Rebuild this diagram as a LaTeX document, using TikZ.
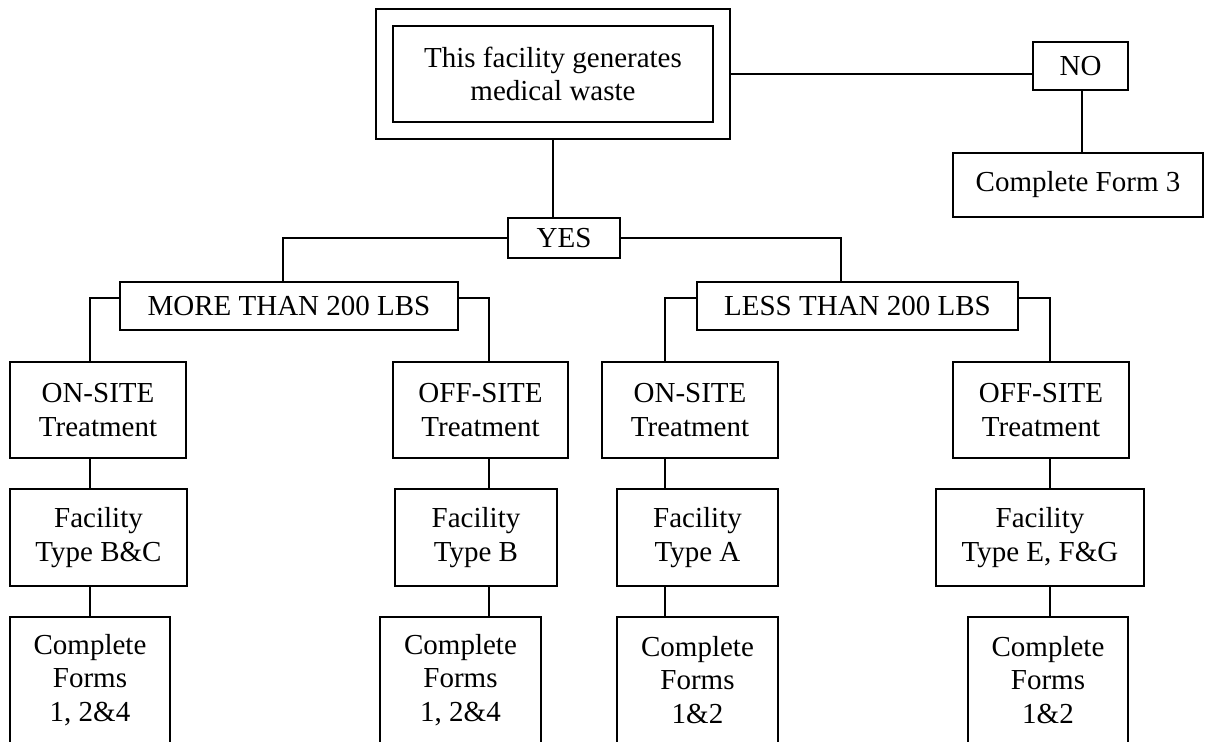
\documentclass[tikz,border=0pt]{standalone}
\usepackage{fontspec}
\setmainfont{Liberation Serif}
\usetikzlibrary{positioning,fit}
\newcommand{\boxfont}{\fontsize{14.5}{16.6}\selectfont}

\begin{document}
\begin{tikzpicture}[x=0.5pt, y=-0.5pt,
	box/.style={rectangle, draw=black, line width=1pt, inner sep=0pt, align=center, font=\boxfont},
	link/.style={draw=black, line width=0.9pt}]

	\useasboundingbox (0,0) rectangle (1205,741);

	% Nodes
	\node[box, minimum width=160pt, minimum height=48pt] (top) at (553,74) {This facility generates\\medical waste};
	\node[box, fit=(top), inner sep=8pt] (frame) {};
	\node[box, minimum width=47.5pt, minimum height=24pt] (no) at (1080.5,66) {NO};
	\node[box, minimum width=125pt, minimum height=32pt] (form3) at (1078,185) {Complete Form 3};
	\node[box, minimum width=56pt, minimum height=20pt, fill=white] (yes) at (564,238) {YES};
	\node[box, minimum width=169pt, minimum height=24pt] (more) at (289,306) {MORE THAN 200 LBS};
	\node[box, minimum width=160.5pt, minimum height=24pt] (less) at (857.5,306) {LESS THAN 200 LBS};

	\node[box, minimum width=88pt, minimum height=48pt] (on1) at (98,410) {ON-SITE\\Treatment};
	\node[box, minimum width=87.5pt, minimum height=48pt] (off1) at (480.5,410) {OFF-SITE\\Treatment};
	\node[box, minimum width=88pt, minimum height=48pt] (on2) at (690,410) {ON-SITE\\Treatment};
	\node[box, minimum width=88pt, minimum height=48pt] (off2) at (1041,410) {OFF-SITE\\Treatment};

	\node[box, minimum width=88.5pt, minimum height=48.5pt] (fac1) at (98.5,537.5) {Facility\\Type B\&C};
	\node[box, minimum width=81pt, minimum height=48.5pt] (fac2) at (476,537.5) {Facility\\Type B};
	\node[box, minimum width=80.5pt, minimum height=48.5pt] (fac3) at (697.5,537.5) {Facility\\Type A};
	\node[box, minimum width=104pt, minimum height=48.5pt] (fac4) at (1040,537.5) {Facility\\Type E, F\&G};

	\node[box, minimum width=80pt, minimum height=63pt] (forms1) at (90,680) {Complete\\Forms\\1, 2\&4};
	\node[box, minimum width=80.5pt, minimum height=63pt] (forms2) at (460.5,680) {Complete\\Forms\\1, 2\&4};
	\node[box, minimum width=80.5pt, minimum height=63pt] (forms3) at (697.5,680) {Complete\\Forms\\1\&2};
	\node[box, minimum width=80pt, minimum height=63pt] (forms4) at (1048,680) {Complete\\Forms\\1\&2};

	% Branch points
	\coordinate (ymore) at (283,238);
	\coordinate (yless) at (841,238);
	\coordinate (c1) at (90,298);
	\coordinate (c2) at (489,298);
	\coordinate (c3) at (665,298);
	\coordinate (c4) at (1050,298);

	% Connectors
	\draw[link] (frame.east) -- (frame.east -| no.west);
	\draw[link] (no.south -| form3.north) ++(4,0) coordinate (nodrop) -- (nodrop |- form3.north);
	\draw[link] (frame.south) -- (frame.south |- yes.north);
	\draw[link] (yes.west) -- (ymore) -- (ymore |- more.north);
	\draw[link] (yes.east) -- (yless) -- (yless |- less.north);

	\draw[link] (more.west |- c1) -- (c1) -- (c1 |- on1.north);
	\draw[link] (more.east |- c2) -- (c2) -- (c2 |- off1.north);
	\draw[link] (less.west |- c3) -- (c3) -- (c3 |- on2.north);
	\draw[link] (less.east |- c4) -- (c4) -- (c4 |- off2.north);

	\draw[link] (on1.south -| c1) -- (c1 |- fac1.north);
	\draw[link] (off1.south -| c2) -- (c2 |- fac2.north);
	\draw[link] (on2.south -| c3) -- (c3 |- fac3.north);
	\draw[link] (off2.south -| c4) -- (c4 |- fac4.north);

	\draw[link] (fac1.south -| c1) -- (c1 |- forms1.north);
	\draw[link] (fac2.south -| c2) -- (c2 |- forms2.north);
	\draw[link] (fac3.south -| c3) -- (c3 |- forms3.north);
	\draw[link] (fac4.south -| c4) -- (c4 |- forms4.north);
\end{tikzpicture}
\end{document}
